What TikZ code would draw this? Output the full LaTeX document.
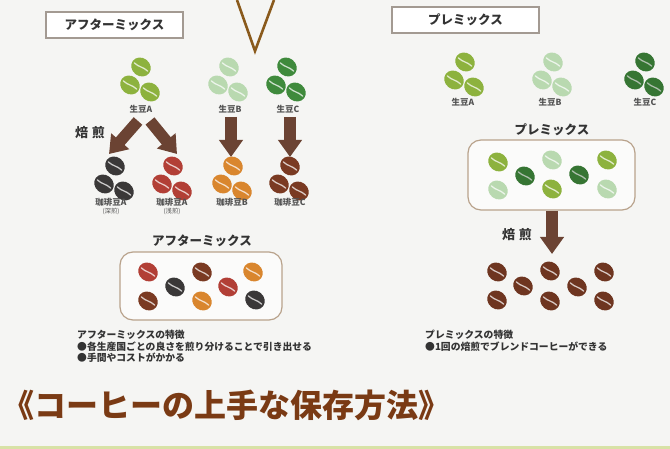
\documentclass[tikz,border=0pt]{standalone}
\usepackage{fontspec}
\newfontfamily\jp{Noto Sans CJK JP}
\usetikzlibrary{arrows.meta}

% bean colours
\definecolor{rawA}{HTML}{8DB23E}
\definecolor{rawB}{HTML}{B9D9B0}
\definecolor{rawC}{HTML}{3F8A3C}
\definecolor{roastDeep}{HTML}{3A3838}
\definecolor{roastLight}{HTML}{B23F36}
\definecolor{roastB}{HTML}{D9862E}
\definecolor{roastC}{HTML}{7A3A22}
\definecolor{roastMix}{HTML}{6E3520}
% other colours
\definecolor{paper}{HTML}{F5F5F3}
\definecolor{arrowbrown}{HTML}{6B4333}
\definecolor{vbrown}{HTML}{8A5A1C}
\definecolor{framegray}{HTML}{A39A92}
\definecolor{boxtan}{HTML}{B9A38C}
\definecolor{ink}{HTML}{333333}
\definecolor{titlebrown}{HTML}{7A3A14}
\definecolor{stripgreen}{HTML}{D8E2A6}

\tikzset{
  x=1pt, y=-1pt,
  bean/.pic={
    \fill[#1, rotate=-38] (0,0) ellipse [x radius=10.2, y radius=9];
    \draw[white!72!#1, line width=1.3, line cap=round, rotate=-38]
      (-7.8,0.9) .. controls (-2,1.6) and (2,-1.6) .. (7.8,-0.9);
  },
  cluster/.pic={
    \pic at (0,0) {bean=#1};
    \pic at (-11,18) {bean=#1};
    \pic at (9,25) {bean=#1};
  },
  label/.style={font=\jp\fontsize{8.5}{9}\selectfont\bfseries, text=ink!85, inner sep=0},
  sublabel/.style={font=\jp\fontsize{6.3}{7}\selectfont, text=ink!85, inner sep=0},
  heading/.style={font=\jp\fontsize{12.5}{13}\selectfont\bfseries, text=ink, inner sep=0},
  roast/.style={font=\jp\fontsize{13}{14}\selectfont\bfseries, text=ink, inner sep=0},
  note/.style={font=\jp\fontsize{9.8}{11}\selectfont\bfseries, text=ink, inner sep=0, anchor=west},
  tagframe/.style={draw=framegray, line width=2.6, fill=white},
  mixbox/.style={draw=boxtan, line width=1.2, rounded corners=13, fill=white!60!paper},
  roastarrow/.style={draw=arrowbrown, line width=11.5pt,
    -{Triangle[width=23pt,length=17pt]}},
}

\begin{document}
\begin{tikzpicture}
\useasboundingbox (0,0) rectangle (670,449);
\fill[paper] (0,0) rectangle (670,449);
\fill[stripgreen] (0,446) rectangle (670,449);

% the V stroke at the top
\coordinate (vl) at (237,0);
\coordinate (vb) at (255,51);
\coordinate (vr) at (274,0);
\draw[vbrown, line width=2.6, line join=miter] (vl) -- (vb) -- (vr);

% ---------- after-mix side ----------
\draw[tagframe] (46,12) rectangle (183,38);
\node[heading] (tagAfter) at (114.5,25) {アフターミックス};

\pic at (141,67) {cluster=rawA};
\pic at (229,67) {cluster=rawB};
\pic at (287,67) {cluster=rawC};
\node[label] (gA) at (141,109) {生豆A};
\node[label] (gB) at (230,109) {生豆B};
\node[label] (gC) at (288,109) {生豆C};

\node[roast] (roastL) at (90,133) {焙\hspace{4pt}煎};

\coordinate (aL0) at (138,121);
\coordinate (aL1) at (109,154);
\coordinate (aR0) at (150,121);
\coordinate (aR1) at (177,154);
\coordinate (aB0) at (231,117);
\coordinate (aB1) at (231,157);
\coordinate (aC0) at (290,117);
\coordinate (aC1) at (290,157);
\draw[roastarrow] (aL0) -- (aL1);
\draw[roastarrow] (aR0) -- (aR1);
\draw[roastarrow] (aB0) -- (aB1);
\draw[roastarrow] (aC0) -- (aC1);

\pic at (115,166) {cluster=roastDeep};
\pic at (173,166) {cluster=roastLight};
\pic at (233,166) {cluster=roastB};
\pic at (290,166) {cluster=roastC};
\node[label] (cA1) at (111,202) {珈琲豆A};
\node[sublabel] (cA1s) at (111,211) {(深煎)};
\node[label] (cA2) at (172,202) {珈琲豆A};
\node[sublabel] (cA2s) at (172,211) {(浅煎)};
\node[label] (cB) at (232,202) {珈琲豆B};
\node[label] (cC) at (290,202) {珈琲豆C};

\node[heading] (afterTitle) at (202,241) {アフターミックス};
\draw[mixbox] (120,252) rectangle (282,320);
\pic at (148,272) {bean=roastLight};
\pic at (148,301) {bean=roastC};
\pic at (175,287) {bean=roastDeep};
\pic at (202,272) {bean=roastC};
\pic at (202,301) {bean=roastB};
\pic at (228,287) {bean=roastLight};
\pic at (253,272) {bean=roastB};
\pic at (255,300) {bean=roastDeep};

\node[note] (afterF) at (77,335) {アフターミックスの特徴};
\node[note] (afterF1) at (77,346.5) {●各生産国ごとの良さを煎り分けることで引き出せる};
\node[note] (afterF2) at (77,358) {●手間やコストがかかる};

% ---------- pre-mix side ----------
\draw[tagframe] (392,7) rectangle (539,33);
\node[heading] (tagPre) at (465.5,20) {プレミックス};

\pic at (465,62) {cluster=rawA};
\pic at (553,62) {cluster=rawB};
\pic at (645,62) {cluster=rawC!85!black};
\node[label] (pA) at (463,102) {生豆A};
\node[label] (pB) at (550,102) {生豆B};
\node[label] (pC) at (645,102) {生豆C};

\node[heading] (preTitle) at (552,130) {プレミックス};
\draw[mixbox] (468,140) rectangle (635,210);
\pic at (498,162) {bean=rawA};
\pic at (498,190) {bean=rawB};
\pic at (525,176) {bean=rawC!85!black};
\pic at (552,160) {bean=rawB};
\pic at (552,189) {bean=rawA};
\pic at (579,175) {bean=rawC!85!black};
\pic at (607,160) {bean=rawA};
\pic at (607,189) {bean=rawB};

\coordinate (aP0) at (552,211);
\coordinate (aP1) at (552,254);
\draw[roastarrow] (aP0) -- (aP1);
\node[roast] (roastR) at (517,235) {焙\hspace{4pt}煎};

\pic at (497,272) {bean=roastMix};
\pic at (497,300) {bean=roastMix};
\pic at (523,286) {bean=roastMix};
\pic at (550,271) {bean=roastMix};
\pic at (550,301) {bean=roastMix};
\pic at (577,287) {bean=roastMix};
\pic at (604,272) {bean=roastMix};
\pic at (604,301) {bean=roastMix};

\node[note] (preF) at (425,335) {プレミックスの特徴};
\node[note] (preF1) at (425,346.5) {●1回の焙煎でブレンドコーヒーができる};

% ---------- next section heading ----------
\node[font=\jp\fontsize{32}{34}\selectfont\bfseries, text=titlebrown,
      anchor=west, inner sep=0] (section) at (2,405) {《コーヒーの上手な保存方法》};
\end{tikzpicture}
\end{document}
